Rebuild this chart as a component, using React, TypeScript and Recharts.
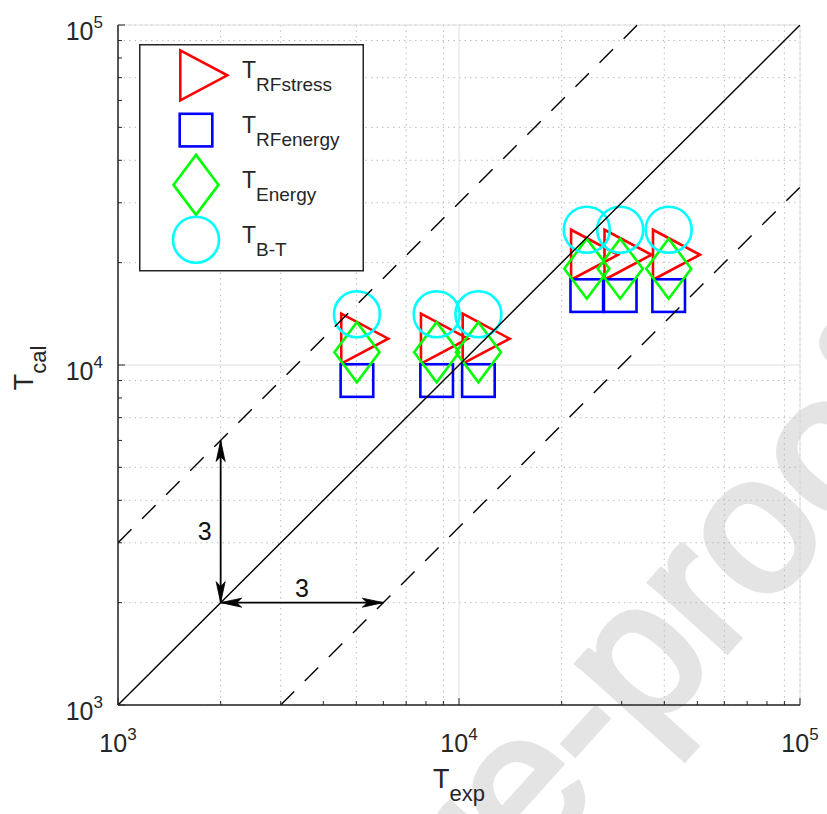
import React from 'react';
import {
  ScatterChart,
  Scatter,
  XAxis,
  YAxis,
  CartesianGrid,
  ReferenceLine,
  Legend,
} from 'recharts';

// ---------------- data ----------------
const T_EXP = [5020, 8600, 11400, 23700, 29700, 41200];
const T_RF_STRESS = [11950, 11950, 11950, 21100, 21100, 21100];
const T_RF_ENERGY = [9000, 9000, 9000, 16000, 16000, 16000];
const T_ENERGY = [10900, 10900, 10900, 19200, 19200, 19200];
const T_BT = [14100, 14100, 14100, 25000, 25000, 25000];

const SERIES_NAMES = ['RFstress', 'RFenergy', 'Energy', 'B-T'];

const AXIS_DOMAIN: [number, number] = [1000, 100000];
const DECADE_TICKS = [1000, 10000, 100000];
const MINOR_TICKS = [
  2000, 3000, 4000, 5000, 6000, 7000, 8000, 9000,
  20000, 30000, 40000, 50000, 60000, 70000, 80000, 90000,
];
const MAJOR_GRID = [10000];
const ALL_TICKS = [...DECADE_TICKS, ...MINOR_TICKS].sort((a, b) => a - b);

const RATIO = 3;
const PARITY_X = [1000, 100000];
const PARITY_Y = [1000, 100000];
const UPPER_X = [1000, 100000 / RATIO];
const UPPER_Y = [1000 * RATIO, 100000];
const LOWER_X = [1000 * RATIO, 100000];
const LOWER_Y = [1000, 100000 / RATIO];
const ARROW_ORIGIN = 2000;
const ARROW_END = ARROW_ORIGIN * RATIO;
const FACTOR_LABEL = String(RATIO);
const WATERMARK = 'Journal Pre-proof';

// ---------------- styles ----------------
const FONT = '"Liberation Sans", Arial, Helvetica, sans-serif';
const INK = '#262626';
const RED = '#ff0000';
const BLUE = '#0000ff';
const GREEN = '#00ff00';
const CYAN = '#00ffff';
const MW = 2.6;

const zip = (xs: number[], ys: number[]) => xs.map((x, i) => ({ x, y: ys[i] }));

const stressData = zip(T_EXP, T_RF_STRESS);
const rfEnergyData = zip(T_EXP, T_RF_ENERGY);
const energyData = zip(T_EXP, T_ENERGY);
const btData = zip(T_EXP, T_BT);
const parityData = zip(PARITY_X, PARITY_Y);
const upperData = zip(UPPER_X, UPPER_Y);
const lowerData = zip(LOWER_X, LOWER_Y);

// ---------------- markers ----------------
const TriMark = ({ cx, cy }: { cx: number; cy: number }) => (
  <polygon
    points={`${cx - 15.7},${cy - 25} ${cx - 15.7},${cy + 25} ${cx + 31.3},${cy}`}
    fill="none"
    stroke={RED}
    strokeWidth={MW}
  />
);
const SquareMark = ({ cx, cy }: { cx: number; cy: number }) => (
  <rect x={cx - 16.3} y={cy - 16.3} width={32.6} height={32.6} fill="none" stroke={BLUE} strokeWidth={MW} />
);
const DiamondMark = ({ cx, cy }: { cx: number; cy: number }) => (
  <polygon
    points={`${cx},${cy - 30} ${cx + 22.5},${cy} ${cx},${cy + 30} ${cx - 22.5},${cy}`}
    fill="none"
    stroke={GREEN}
    strokeWidth={MW}
  />
);
const CircleMark = ({ cx, cy }: { cx: number; cy: number }) => (
  <circle cx={cx} cy={cy} r={23} fill="none" stroke={CYAN} strokeWidth={MW} />
);
const MARKERS = [TriMark, SquareMark, DiamondMark, CircleMark];

// ---------------- ticks ----------------
const isDecade = (v: number) => DECADE_TICKS.includes(v);
const expOf = (v: number) => Math.round(Math.log10(v));

const Pow = ({ x, y, v, anchor }: { x: number; y: number; v: number; anchor: string }) => (
  <text x={x} y={y} textAnchor={anchor as any} fontFamily={FONT} fontSize={25} fill={INK}>
    10
    <tspan dy={-12} fontSize={17}>
      {expOf(v)}
    </tspan>
  </text>
);

const BottomTick = (p: any) => {
  const { x, y, payload } = p;
  const v = payload.value;
  const d = isDecade(v);
  return (
    <g>
      <line x1={x} y1={y} x2={x} y2={y - (d ? 7 : 4)} stroke={INK} strokeWidth={1} />
      {d && <Pow x={x} y={y + 47} v={v} anchor="middle" />}
    </g>
  );
};
const TopTick = (p: any) => {
  const { x, y, payload } = p;
  const d = isDecade(payload.value);
  return <line x1={x} y1={y} x2={x} y2={y + (d ? 7 : 4)} stroke={INK} strokeWidth={1} />;
};
const LeftTick = (p: any) => {
  const { x, y, payload } = p;
  const v = payload.value;
  const d = isDecade(v);
  return (
    <g>
      <line x1={x} y1={y} x2={x + (d ? 7 : 4)} y2={y} stroke={INK} strokeWidth={1} />
      {d && <Pow x={x - 15} y={y + 15} v={v} anchor="end" />}
    </g>
  );
};
const RightTick = (p: any) => {
  const { x, y, payload } = p;
  const d = isDecade(payload.value);
  return <line x1={x} y1={y} x2={x - (d ? 7 : 4)} y2={y} stroke={INK} strokeWidth={1} />;
};

// ---------------- titles ----------------
const XTitle = (p: any) => {
  const vb = p.viewBox || { x: 118, y: 705, width: 682, height: 109 };
  return (
    <text x={vb.x + vb.width / 2} y={vb.y + 83} textAnchor="middle" fontFamily={FONT} fontSize={27} fill={INK}>
      T
      <tspan dy={13} fontSize={22}>
        exp
      </tspan>
    </text>
  );
};
const YTitle = (p: any) => {
  const vb = p.viewBox || { x: 0, y: 25, width: 118, height: 680 };
  const x = vb.x + 33;
  const y = vb.y + vb.height / 2 + 3;
  return (
    <text
      x={x}
      y={y}
      transform={`rotate(-90, ${x}, ${y})`}
      textAnchor="middle"
      fontFamily={FONT}
      fontSize={27}
      fill={INK}
    >
      T
      <tspan dy={13} fontSize={22}>
        cal
      </tspan>
    </text>
  );
};

// ---------------- arrows ----------------
const arrowHead = (tx: number, ty: number, ux: number, uy: number, key: string) => {
  const px = -uy;
  const py = ux;
  const L = 21;
  const W = 4.5;
  const N = 16;
  const pts = [
    [tx, ty],
    [tx - ux * L + px * W, ty - uy * L + py * W],
    [tx - ux * N, ty - uy * N],
    [tx - ux * L - px * W, ty - uy * L - py * W],
  ];
  return <polygon key={key} points={pts.map((q) => q.join(',')).join(' ')} fill="#000" stroke="#000" strokeWidth={0.8} />;
};
const ArrowShape = (p: any) => {
  const x1 = Number(p.x1);
  const y1 = Number(p.y1);
  const x2 = Number(p.x2);
  const y2 = Number(p.y2);
  const len = Math.hypot(x2 - x1, y2 - y1) || 1;
  const ux = (x2 - x1) / len;
  const uy = (y2 - y1) / len;
  return (
    <g>
      <line x1={x1} y1={y1} x2={x2} y2={y2} stroke="#000" strokeWidth={1.8} />
      {arrowHead(x2, y2, ux, uy, 'a')}
      {arrowHead(x1, y1, -ux, -uy, 'b')}
    </g>
  );
};
const VLabel = (p: any) => {
  const vb = p.viewBox;
  if (!vb) return null;
  return (
    <text x={vb.x - 16} y={vb.y + vb.height * 0.56 + 9} textAnchor="middle" fontFamily={FONT} fontSize={25} fill="#111">
      {FACTOR_LABEL}
    </text>
  );
};
const HLabel = (p: any) => {
  const vb = p.viewBox;
  if (!vb) return null;
  return (
    <text x={vb.x + vb.width / 2} y={vb.y - 6} textAnchor="middle" fontFamily={FONT} fontSize={25} fill="#111">
      {FACTOR_LABEL}
    </text>
  );
};

// ---------------- legend ----------------
const LegendBox = () => (
  <svg width={225} height={228} style={{ display: 'block' }}>
    <rect x={0.75} y={0.75} width={223.5} height={226} fill="#fff" stroke={INK} strokeWidth={1.5} />
    {SERIES_NAMES.map((name, i) => {
      const M = MARKERS[i];
      const cy = 31.3 + i * 54.8;
      return (
        <g key={name}>
          <M cx={57} cy={cy} />
          <text x={103} y={cy + 3} fontFamily={FONT} fontSize={23} fill={INK}>
            T
            <tspan dy={13} fontSize={19}>
              {name}
            </tspan>
          </text>
        </g>
      );
    })}
  </svg>
);

const empty = () => <g />;

const logAxis = {
  type: 'number' as const,
  scale: 'log' as const,
  domain: AXIS_DOMAIN,
  allowDataOverflow: true,
};

export default function App() {
  return (
    <div style={{ position: 'absolute', left: 0, top: 0, width: 827, height: 814, background: '#fff' }}>
      <svg width={827} height={814} style={{ position: 'absolute', left: 0, top: 0 }}>
        <text
          x={-65}
          y={1531}
          transform="rotate(-48, -65, 1531)"
          fontFamily={FONT}
          fontSize={195}
          fill="#e4e4e4"
          stroke="#e4e4e4"
          strokeWidth={6}
        >
          {WATERMARK}
        </text>
      </svg>
      <div style={{ position: 'absolute', left: 0, top: 0 }}>
        <ScatterChart width={827} height={814} margin={{ top: 25, right: 27, bottom: 0, left: 0 }}>
          <XAxis xAxisId="minor" dataKey="x" {...logAxis} ticks={MINOR_TICKS} hide />
          <YAxis yAxisId="minor" dataKey="y" {...logAxis} ticks={MINOR_TICKS} hide />
          <XAxis xAxisId="major" dataKey="x" {...logAxis} ticks={MAJOR_GRID} hide />
          <YAxis yAxisId="major" dataKey="y" {...logAxis} ticks={MAJOR_GRID} hide />
          <CartesianGrid xAxisId="minor" yAxisId="minor" stroke="#bdbdbd" strokeDasharray="1.5 4" />
          <CartesianGrid xAxisId="major" yAxisId="major" stroke="#dedede" />

          <XAxis
            xAxisId={0}
            dataKey="x"
            {...logAxis}
            ticks={ALL_TICKS}
            interval={0}
            height={109}
            tickSize={0}
            tickMargin={0}
            tickLine={false}
            tick={<BottomTick />}
            axisLine={{ stroke: INK, strokeWidth: 1.5 }}
            label={{ content: XTitle }}
          />
          <YAxis
            yAxisId={0}
            dataKey="y"
            {...logAxis}
            ticks={ALL_TICKS}
            interval={0}
            width={118}
            tickSize={0}
            tickMargin={0}
            tickLine={false}
            tick={<LeftTick />}
            axisLine={{ stroke: INK, strokeWidth: 1.5 }}
            label={{ content: YTitle }}
          />
          <XAxis
            xAxisId="top"
            orientation="top"
            dataKey="x"
            {...logAxis}
            ticks={ALL_TICKS}
            interval={0}
            height={0}
            tickSize={0}
            tickMargin={0}
            tickLine={false}
            tick={<TopTick />}
            axisLine={{ stroke: INK, strokeWidth: 1.5 }}
          />
          <YAxis
            yAxisId="right"
            orientation="right"
            dataKey="y"
            {...logAxis}
            ticks={ALL_TICKS}
            interval={0}
            width={0}
            tickSize={0}
            tickMargin={0}
            tickLine={false}
            tick={<RightTick />}
            axisLine={{ stroke: INK, strokeWidth: 1.5 }}
          />

          <Scatter
            name={SERIES_NAMES[0]}
            data={stressData}
            isAnimationActive={false}
            fill="none"
            stroke={RED}
            shape={(p: any) => <TriMark cx={p.cx} cy={p.cy} />}
          />
          <Scatter
            name={SERIES_NAMES[1]}
            data={rfEnergyData}
            isAnimationActive={false}
            fill="none"
            stroke={BLUE}
            shape={(p: any) => <SquareMark cx={p.cx} cy={p.cy} />}
          />
          <Scatter
            name={SERIES_NAMES[2]}
            data={energyData}
            isAnimationActive={false}
            fill="none"
            stroke={GREEN}
            shape={(p: any) => <DiamondMark cx={p.cx} cy={p.cy} />}
          />
          <Scatter
            name={SERIES_NAMES[3]}
            data={btData}
            isAnimationActive={false}
            fill="none"
            stroke={CYAN}
            shape={(p: any) => <CircleMark cx={p.cx} cy={p.cy} />}
          />

          <Scatter
            name="parity"
            data={parityData}
            isAnimationActive={false}
            legendType="none"
            fill="none"
            stroke="#000"
            line={{ stroke: '#000', strokeWidth: 1.4 }}
            shape={empty}
          />
          <Scatter
            name="upper"
            data={upperData}
            isAnimationActive={false}
            legendType="none"
            fill="none"
            stroke="#000"
            line={{ stroke: '#000', strokeWidth: 1.4, strokeDasharray: '19 15' }}
            shape={empty}
          />
          <Scatter
            name="lower"
            data={lowerData}
            isAnimationActive={false}
            legendType="none"
            fill="none"
            stroke="#000"
            line={{ stroke: '#000', strokeWidth: 1.4, strokeDasharray: '19 15' }}
            shape={empty}
          />

          <ReferenceLine
            segment={[
              { x: ARROW_ORIGIN, y: ARROW_ORIGIN },
              { x: ARROW_ORIGIN, y: ARROW_END },
            ]}
            shape={ArrowShape}
            label={{ content: VLabel }}
          />
          <ReferenceLine
            segment={[
              { x: ARROW_ORIGIN, y: ARROW_ORIGIN },
              { x: ARROW_END, y: ARROW_ORIGIN },
            ]}
            shape={ArrowShape}
            label={{ content: HLabel }}
          />

          <Legend
            layout="horizontal"
            verticalAlign="middle"
            align="center"
            wrapperStyle={{ position: 'absolute', left: 139, top: 44, width: 225, height: 228 }}
            content={() => <LegendBox />}
          />
        </ScatterChart>
      </div>
    </div>
  );
}
